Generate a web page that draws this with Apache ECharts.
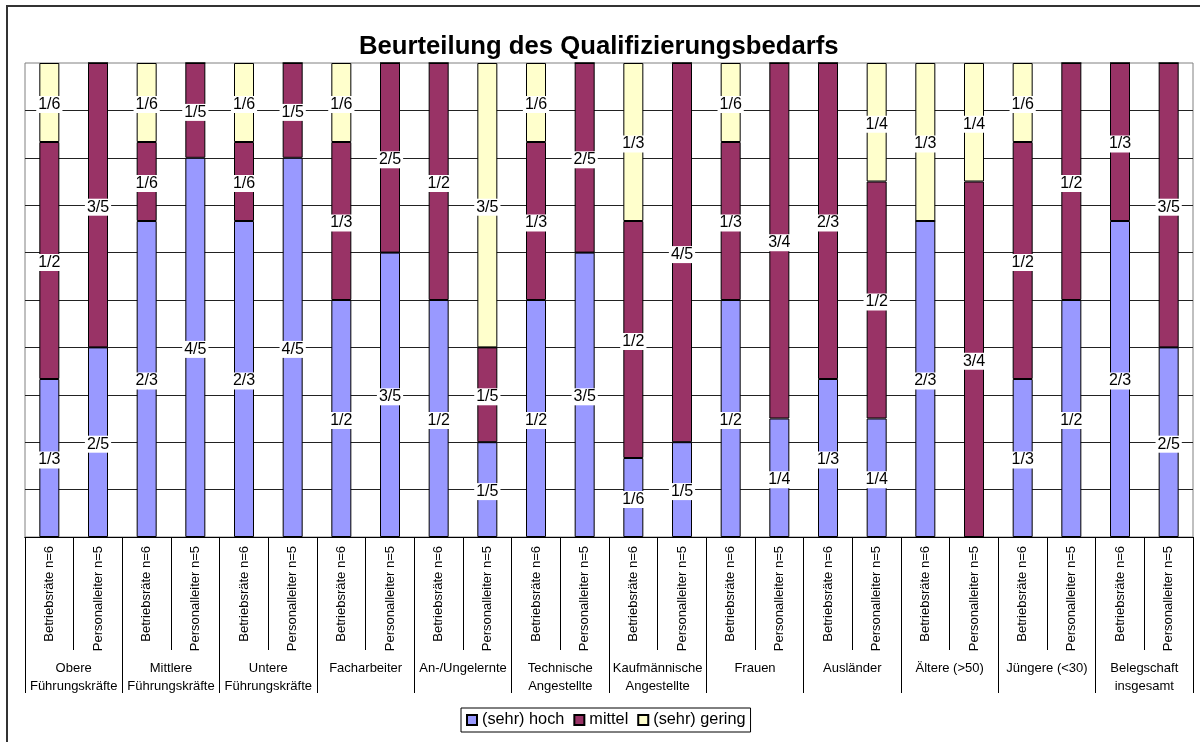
<!DOCTYPE html>
<html>
<head>
<meta charset="utf-8">
<script src="https://cdn.jsdelivr.net/npm/echarts@6/dist/echarts.min.js"></script>
<style>
  html, body { margin: 0; padding: 0; background: #fff; }
  #main { width: 1200px; height: 742px; }
</style>
</head>
<body>
<div id="main"></div>
<script>
  // Gruppen (zweite Achsenebene) und Befragte (erste Ebene)
  const groups = ['Obere\nFührungskräfte', 'Mittlere\nFührungskräfte', 'Untere\nFührungskräfte', 'Facharbeiter',
    'An-/Ungelernte', 'Technische\nAngestellte', 'Kaufmännische\nAngestellte', 'Frauen', 'Ausländer',
    'Ältere (>50)', 'Jüngere (<30)', 'Belegschaft\ninsgesamt']
  const raters = ['Betriebsräte n=6', 'Personalleiter n=5']

  // Anteile je Balken, als Bruch wie im Bild beschriftet
  const hoch = ['1/3', '2/5', '2/3', '4/5', '2/3', '4/5', '1/2', '3/5', '1/2', '1/5', '1/2', '3/5',
    '1/6', '1/5', '1/2', '1/4', '1/3', '1/4', '2/3', '0', '1/3', '1/2', '2/3', '2/5']
  const mittel = ['1/2', '3/5', '1/6', '1/5', '1/6', '1/5', '1/3', '2/5', '1/2', '1/5', '1/3', '2/5',
    '1/2', '4/5', '1/3', '3/4', '2/3', '1/2', '0', '3/4', '1/2', '1/2', '1/3', '3/5']
  const gering = ['1/6', '0', '1/6', '0', '1/6', '0', '1/6', '0', '0', '3/5', '1/6', '0',
    '1/3', '0', '1/6', '0', '0', '1/4', '1/3', '1/4', '1/6', '0', '0', '0']

  const seriesNames = ['(sehr) hoch', 'mittel', '(sehr) gering']
  const colors = ['#9999FF', '#993366', '#FFFFCC']

  let barLabels = []
  groups.forEach(() => { barLabels = barLabels.concat(raters) })

  function toItems(list) {
    return list.map(s => {
      let p = s.split('/')
      let v = p.length === 2 ? Number(p[0]) / Number(p[1]) : Number(p[0])
      return { value: v, name: s, label: { show: v > 0 } }
    })
  }

  const font = '"Liberation Sans", Arial, sans-serif'

  let myChart = echarts.init(document.getElementById('main'))
  let option = {
    animation: false,
    backgroundColor: '#fff',
    textStyle: { fontFamily: font },
    title: {
      text: 'Beurteilung des Qualifizierungsbedarfs',
      left: 354,
      top: 29,
      textStyle: { fontSize: 25.7, fontWeight: 'bold', color: '#000', fontFamily: font }
    },
    graphic: [{
      type: 'rect',
      shape: { x: 7, y: 6, width: 1210, height: 760 },
      style: { fill: 'none', stroke: '#333', lineWidth: 2 },
      silent: true
    }],
    legend: {
      data: seriesNames,
      left: 461,
      top: 708,
      orient: 'horizontal',
      icon: 'rect',
      itemWidth: 10,
      itemHeight: 10,
      itemGap: 9,
      padding: [4, 5],
      borderColor: '#000',
      borderWidth: 1,
      backgroundColor: '#fff',
      textStyle: { fontSize: 16.3, color: '#000', fontFamily: font }
    },
    grid: {
      left: 25,
      right: 7,
      top: 63,
      bottom: 205,
      show: true,
      borderColor: '#808080',
      borderWidth: 1,
      containLabel: false
    },
    xAxis: [
      {
        type: 'category',
        data: barLabels,
        position: 'bottom',
        axisLine: { lineStyle: { color: '#000', width: 1 } },
        axisTick: { show: true, interval: 0, length: 113, lineStyle: { color: '#000' } },
        axisLabel: { interval: 0, rotate: 90, margin: 9, fontSize: 13, color: '#000', fontFamily: font }
      },
      {
        type: 'category',
        data: groups,
        position: 'bottom',
        axisLine: { lineStyle: { color: '#000', width: 1 } },
        axisTick: { show: true, interval: 0, length: 156, lineStyle: { color: '#000' } },
        axisLabel: { interval: 0, margin: 122, fontSize: 13, lineHeight: 18, color: '#000', align: 'center', fontFamily: font }
      }
    ],
    yAxis: {
      type: 'value',
      min: 0,
      max: 1,
      interval: 0.1,
      axisLine: { show: false },
      axisTick: { show: false },
      axisLabel: { show: false },
      splitLine: { show: true, showMaxLine: false, lineStyle: { color: '#222', width: 1 } }
    },
    series: [hoch, mittel, gering].map((list, i) => ({
      name: seriesNames[i],
      type: 'bar',
      stack: 'total',
      xAxisIndex: 0,
      barWidth: 20,
      data: toItems(list),
      itemStyle: { color: colors[i], borderColor: '#000', borderWidth: 1 },
      label: {
        show: true,
        position: 'inside',
        offset: [0, 2],
        formatter: p => p.name,
        color: '#000',
        fontSize: 16,
        fontFamily: font,
        backgroundColor: '#fff',
        padding: [1, 2, 0, 2]
      }
    }))
  }
  option && myChart.setOption(option)
</script>
</body>
</html>
